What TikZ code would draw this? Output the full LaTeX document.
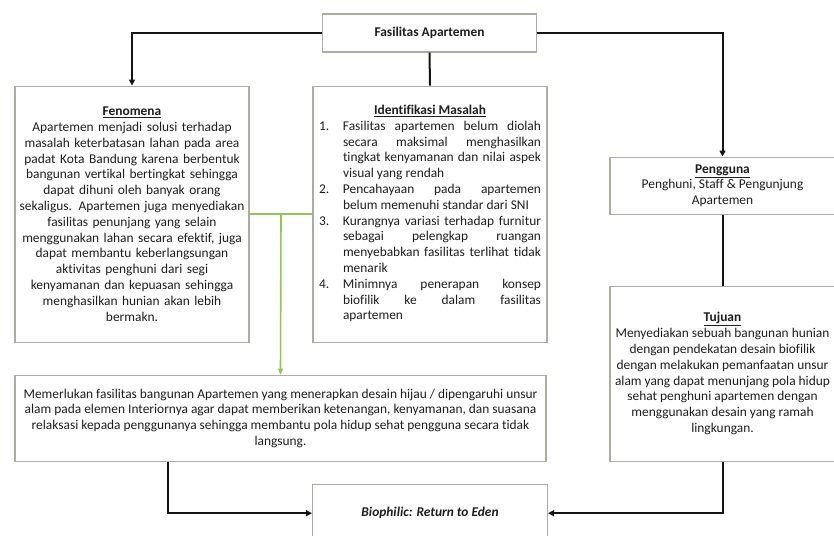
\documentclass[tikz,border=0pt]{standalone}
\usepackage{fontspec}
\setmainfont{Carlito}[Ligatures=NoCommon]
\usepackage{tikz}
\usetikzlibrary{
    arrows.meta,
    positioning,
    calc
}
\definecolor{Cbox}{RGB}{172, 172, 160}
\definecolor{Cline}{RGB}{20, 20, 20}
\definecolor{Cgreen}{RGB}{146, 198, 84}
\definecolor{Ctext}{RGB}{30, 30, 30}
\newcommand{\txtsize}{\fontsize{13.4}{15.8}\selectfont}
\newcommand{\mitem}[2]{\hangindent=24pt\hangafter=1\noindent\makebox[24pt][l]{#1}#2\par}
\tikzset{
    abox/.style={
        rectangle, draw=Cbox, line width=1.1pt, fill=white, text=Ctext,
        align=center, font=\txtsize, inner sep=4pt
    },
    ahead/.style={abox, font=\txtsize\bfseries},
    aline/.style={line width=2pt, Cline},
    aarr/.style={-{Triangle[length=6pt, width=6pt]}, line width=2pt, Cline},
    gline/.style={line width=1.6pt, Cgreen},
    garr/.style={-{Triangle[length=6pt, width=5pt]}, line width=1.6pt, Cgreen},
}

\begin{document}
\begin{tikzpicture}[x=1pt, y=1pt]

    \useasboundingbox (0,0) rectangle (834,-535);

    % ── baris atas ───────────────────────────────────────
    \node [ahead, minimum width=214pt, minimum height=38pt]
        (fasilitas) at (429.5,-33) {Fasilitas Apartemen};

    % ── baris kedua: fenomena & identifikasi ─────────────
    \node [abox, below=33pt of fasilitas, xshift=-297.5pt,
           minimum width=233pt, minimum height=256pt, text width=226pt]
        (fenomena) {\underline{\textbf{Fenomena}}\\
        Apartemen menjadi solusi terhadap\\
        masalah keterbatasan lahan pada area\\
        padat Kota Bandung karena berbentuk\\
        bangunan vertikal bertingkat sehingga\\
        dapat dihuni oleh banyak orang\\
        sekaligus. Apartemen juga menyediakan\\
        fasilitas penunjang yang selain\\
        menggunakan lahan secara efektif, juga\\
        dapat membantu keberlangsungan\\
        aktivitas penghuni dari segi\\
        kenyamanan dan kepuasan sehingga\\
        menghasilkan hunian akan lebih\\
        bermakn.};
    \node [abox, below=33pt of fasilitas, xshift=0.5pt,
           minimum width=234pt, minimum height=256pt]
        (identifikasi) {\parbox[c][218pt][t]{222pt}{%
        {\centering\underline{\textbf{Identifikasi Masalah}}\par}
        \mitem{1.}{Fasilitas apartemen belum diolah\linebreak
            secara maksimal menghasilkan\linebreak
            tingkat kenyamanan dan nilai aspek\linebreak
            visual yang rendah}
        \mitem{2.}{Pencahayaan pada apartemen\linebreak
            belum memenuhi standar dari SNI}
        \mitem{3.}{Kurangnya variasi terhadap furnitur\linebreak
            sebagai pelengkap ruangan\linebreak
            menyebabkan fasilitas terlihat tidak\linebreak
            menarik}
        \mitem{4.}{Minimnya penerapan konsep\linebreak
            biofilik ke dalam fasilitas\linebreak
            apartemen}}};

    % ── kolom kanan ──────────────────────────────────────
    \node [abox, below=104pt of fasilitas, xshift=293pt,
           minimum width=225pt, minimum height=57pt]
        (pengguna) {\underline{\textbf{Pengguna}}\\
        Penghuni, Staff \& Pengunjung\\
        Apartemen};
    \node [abox, below=71pt of pengguna,
           minimum width=225pt, minimum height=175pt]
        (tujuan) {\underline{\textbf{Tujuan}}\\
        Menyediakan sebuah bangunan hunian\\
        dengan pendekatan desain biofilik\\
        dengan melakukan pemanfaatan unsur\\
        alam yang dapat menunjang pola hidup\\
        sehat penghuni apartemen dengan\\
        menggunakan desain yang ramah\\
        lingkungan.};

    % ── baris bawah ──────────────────────────────────────
    \node [abox, below=32pt of fenomena.south west, anchor=north west,
           minimum width=531pt, minimum height=86pt]
        (memerlukan) {Memerlukan fasilitas bangunan Apartemen yang menerapkan desain hijau / dipengaruhi unsur\\
        alam pada elemen Interiornya agar dapat memberikan ketenangan, kenyamanan, dan suasana\\
        relaksasi kepada penggunanya sehingga membantu pola hidup sehat pengguna secara tidak\\
        langsung.};
    \node [ahead, font=\txtsize\bfseries\itshape, below=141pt of identifikasi,
           minimum width=235pt, minimum height=58pt]
        (biophilic) {Biophilic: Return to Eden};

    % ── panah ────────────────────────────────────────────
    \draw [aarr] (fasilitas.west) -| (fenomena.north);
    \draw [aline] (fasilitas.south) -- (identifikasi.north);
    \draw [aarr] (fasilitas.east) -| (pengguna.north);
    \draw [aline] (pengguna.south) -- (tujuan.north);
    \draw [gline] (fenomena.east) -- coordinate[midway] (gmid) (identifikasi.west);
    \draw [garr] (gmid) -- (memerlukan.north);
    \coordinate (memout) at ($(memerlukan.south west)!0.288!(memerlukan.south east)$);
    \draw [aarr] (memout) |- (biophilic.west);
    \draw [aarr] (tujuan.south) |- (biophilic.east);

\end{tikzpicture}
\end{document}
